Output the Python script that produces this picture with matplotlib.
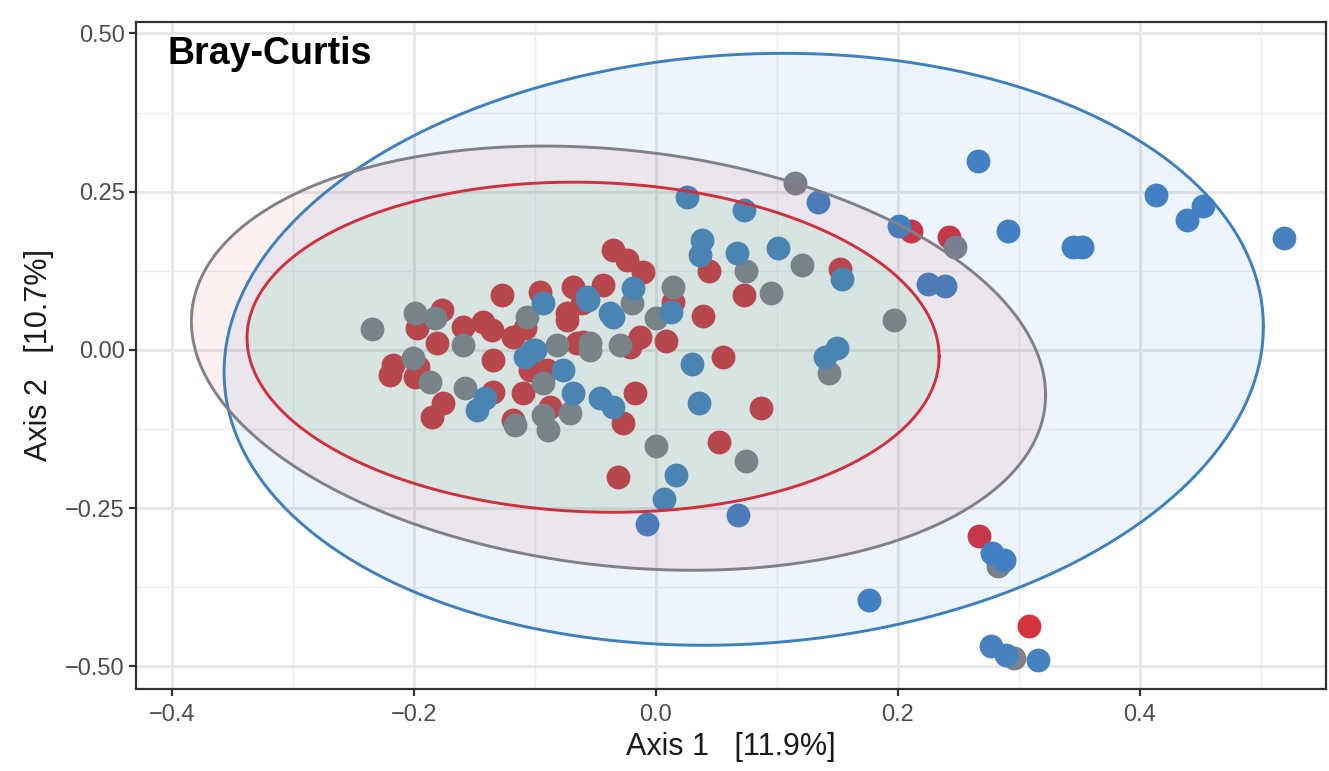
import numpy as np
import matplotlib
matplotlib.use("Agg")
import matplotlib.pyplot as plt

# PCoA scores per group
red_x = [0.211, 0.242, 0.152, 0.267, 0.308, 0.0438, 0.073, 0.0386, 0.0551, 0.0865,
         0.0523, -0.0311, -0.0174, -0.027, 0.008, -0.0353, -0.0242, -0.0105, 0.0143, -0.0959,
         -0.0683, -0.0436, -0.0614, -0.0738, -0.0132, -0.06, -0.0903, -0.0876, -0.1771, -0.1978,
         -0.1812, -0.1592, -0.1427, -0.1358, -0.1275, -0.1179, -0.1083, -0.2171, -0.2198, -0.1964,
         -0.1992, -0.1345, -0.1345, -0.1758, -0.1854, -0.1096, -0.1041, -0.1179, -0.0738, -0.0655,
         -0.0215]
red_y = [0.188, 0.179, 0.128, -0.294, -0.436, 0.125, 0.087, 0.0537, -0.0106, -0.0911,
         -0.1448, -0.2001, -0.0674, -0.1158, 0.0142, 0.158, 0.142, 0.1237, 0.0763, 0.0921,
         0.1, 0.1027, 0.0737, 0.058, 0.021, 0.0131, -0.0316, -0.0895, 0.0632, 0.0343,
         0.0105, 0.0368, 0.0447, 0.0316, 0.0869, 0.021, 0.0343, -0.0237, -0.0395, -0.0263,
         -0.0421, -0.0158, -0.0658, -0.0842, -0.1053, -0.0684, -0.0316, -0.1106, 0.0474, 0.0105,
         0.005]

grey_x = [0.115, 0.247, 0.121, 0.197, 0.143, 0.283, 0.296, 0.074, 0.0948, 0.0744,
          -0.0003, 0.0138, -0.0201, -0.0298, -0.0545, -0.082, -0.0931, -0.0711, -0.089, -0.2344,
          -0.1992, -0.1826, -0.1592, -0.2006, -0.1868, -0.1579, -0.1165, -0.1069, -0.0931, -0.0545,
          0.0]
grey_y = [0.264, 0.163, 0.134, 0.047, -0.036, -0.341, -0.487, 0.125, 0.0895, -0.1754,
          -0.1517, 0.1, 0.0737, 0.0079, 0.0105, 0.0079, -0.1027, -0.1, -0.1264, 0.0327,
          0.058, 0.05, 0.0079, -0.0132, -0.05, -0.0605, -0.1185, 0.0526, -0.0527, 0.0,
          0.05]

blue_x = [0.134, 0.201, 0.266, 0.291, 0.345, 0.352, 0.413, 0.452, 0.439, 0.519,
          0.154, 0.225, 0.239, 0.150, 0.140, 0.278, 0.288, 0.176, 0.277, 0.289,
          0.316, 0.026, 0.0727, 0.038, 0.036, 0.0667, 0.101, 0.0295, 0.0355, 0.0165,
          0.0069, -0.0072, 0.0675, -0.0463, -0.0353, -0.0187, -0.0931, -0.056, -0.0353, -0.1,
          -0.0766, -0.0683, -0.1482, -0.1413, -0.1083, -0.1014, -0.0573, -0.038, 0.012]
blue_y = [0.234, 0.196, 0.298, 0.188, 0.163, 0.163, 0.245, 0.227, 0.205, 0.177,
          0.112, 0.104, 0.101, 0.003, -0.011, -0.321, -0.332, -0.395, -0.468, -0.482,
          -0.490, 0.242, 0.221, 0.174, 0.150, 0.153, 0.1606, -0.0221, -0.0843, -0.1975,
          -0.236, -0.2754, -0.2607, -0.0763, -0.0895, 0.0974, 0.0737, 0.079, 0.0526, 0.0,
          -0.0316, -0.0684, -0.0948, -0.0763, -0.0105, 0.0, 0.0842, 0.058, 0.06]

# 95% ellipses: centre, x / y half-extent and covariance term (blue, grey, red)
ell_cx = [0.0725, -0.031, -0.052]
ell_cy = [0.001, -0.013, 0.0043]
ell_rx = [0.4295, 0.353, 0.286]
ell_ry = [0.4675, 0.335, 0.2607]
ell_cxy = [0.0154, -0.0205, -0.0042]

point_colors = {"red": "#D5323C", "grey": "#80808A", "blue": "#4682BF"}
edge_colors = ["#3D80BD", "#80808A", "#D0303C"]
fill_colors = ["#1175E6", "#E6433A", "#37DC89"]
fill_alpha = [0.08, 0.08, 0.10]

plt.rcParams['font.family'] = ['Liberation Sans', 'DejaVu Sans']

fig = plt.figure(figsize=(13.29, 7.71), dpi=100)
ax = fig.add_axes([0.1023, 0.1064, 0.8954, 0.8651])

ax.set_xlim(-0.4298, 0.5537)
ax.set_ylim(-0.5355, 0.518)

# grid (theme_bw)
ax.set_xticks([-0.4, -0.2, 0.0, 0.2, 0.4])
ax.set_xticks([-0.3, -0.1, 0.1, 0.3, 0.5], minor=True)
ax.set_yticks([-0.5, -0.25, 0.0, 0.25, 0.5])
ax.set_yticks([-0.375, -0.125, 0.125, 0.375], minor=True)
ax.grid(which='major', color='#E6E6E6', linewidth=2.0, zorder=0)
ax.grid(which='minor', color='#EEEEEE', linewidth=1.0, zorder=0)
ax.set_axisbelow(True)

# points
ax.scatter(red_x, red_y, s=295, color=point_colors["red"], linewidths=0, zorder=2)
ax.scatter(grey_x, grey_y, s=295, color=point_colors["grey"], linewidths=0, zorder=2)
ax.scatter(blue_x, blue_y, s=295, color=point_colors["blue"], linewidths=0, zorder=2)

# ellipses on top of points, like stat_ellipse with alpha fill
t = np.linspace(0, 2 * np.pi, 200)
for i in range(3):
    l11 = ell_rx[i]
    l21 = ell_cxy[i] / l11
    l22 = np.sqrt(ell_ry[i] ** 2 - l21 ** 2)
    ex = ell_cx[i] + l11 * np.cos(t)
    ey = ell_cy[i] + l21 * np.cos(t) + l22 * np.sin(t)
    ax.fill(ex, ey, color=fill_colors[i], alpha=fill_alpha[i], linewidth=0, zorder=3)
    ax.plot(ex, ey, color=edge_colors[i], linewidth=2.1, zorder=4)

ax.set_xticklabels(['\u22120.4', '\u22120.2', '0.0', '0.2', '0.4'])
ax.set_yticklabels(['\u22120.50', '\u22120.25', '0.00', '0.25', '0.50'])
ax.tick_params(axis='both', which='major', direction='out', length=5, width=1.6,
               color='#333333', labelsize=17, labelcolor='#4D4D4D')
ax.tick_params(axis='x', which='major', pad=6)
ax.tick_params(axis='y', which='major', pad=3)
ax.tick_params(axis='both', which='minor', length=0)

for sp in ax.spines.values():
    sp.set_color('#333333')
    sp.set_linewidth(1.6)

ax.set_xlabel('Axis 1   [11.9%]', fontsize=22, color='#1A1A1A', labelpad=4)
ax.set_ylabel('Axis 2   [10.7%]', fontsize=22, color='#1A1A1A', labelpad=8)

ax.text(0.0269, 0.937, 'Bray-Curtis', transform=ax.transAxes, fontsize=27,
        fontweight='bold', color='black', va='baseline', ha='left', zorder=6)

fig.savefig('out.png', dpi=100, facecolor='white')
